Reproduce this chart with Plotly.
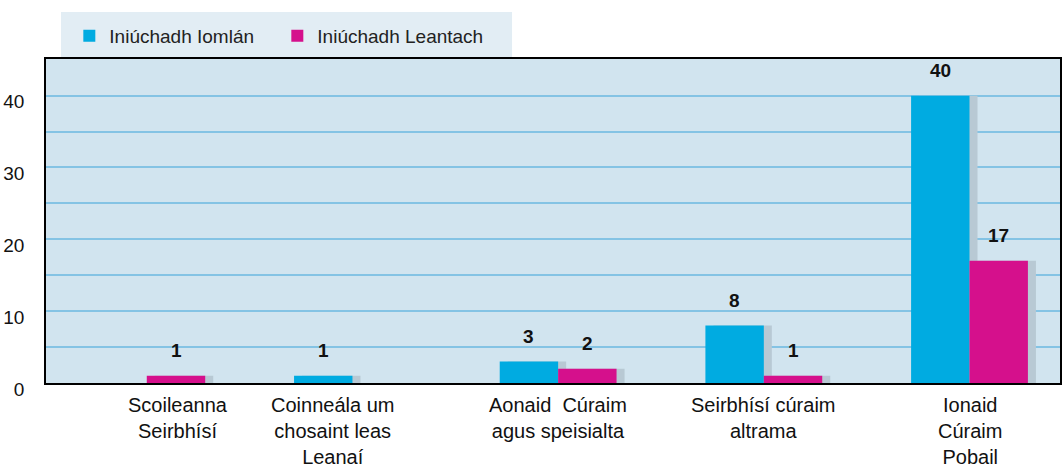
import plotly.graph_objects as go

categories = [
    "Scoileanna<br>Seirbhísí",
    "Coinneála um<br>chosaint leas<br>Leanaí",
    "Aonaid\u00a0 Cúraim<br>agus speisialta",
    "Seirbhísí cúraim<br>altrama",
    "Ionaid<br>Cúraim<br>Pobail",
]
series_names = ["Iniúchadh Iomlán", "Iniúchadh Leantach"]
full_audit = [0, 1, 3, 8, 40]
follow_up = [1, 0, 2, 1, 17]
y_ticks = [0, 10, 20, 30, 40]

BLUE = "#00abe1"
MAGENTA = "#d5108c"
SHADOW = "#b8c9d4"
GRID = "#84c3e4"
FONT = "Liberation Sans, Arial"

BW = 0.284        # bar width in category units
SH = 0.039        # shadow offset
SPACING_PX = 206  # approx pixels per category
LABEL_XSHIFT = [31, -20, 0, 0, 0]  # category label nudges (px)

fig = go.Figure()

# shadows
for vals, off in [(full_audit, -BW), (follow_up, 0.0)]:
    fig.add_trace(go.Bar(
        x=categories, y=vals, width=BW, offset=off + SH,
        marker=dict(color=SHADOW, line=dict(width=0)),
        showlegend=False, hoverinfo="skip"))

fig.add_trace(go.Bar(
    x=categories, y=full_audit, width=BW, offset=-BW, name=series_names[0],
    marker=dict(color=BLUE, line=dict(width=0))))
fig.add_trace(go.Bar(
    x=categories, y=follow_up, width=BW, offset=0.0, name=series_names[1],
    marker=dict(color=MAGENTA, line=dict(width=0))))

# value labels
for vals, xs in [(full_audit, -BW / 2), (follow_up, BW / 2)]:
    for c, v in zip(categories, vals):
        if v:
            fig.add_annotation(
                x=c, y=v, text=f"<b>{v}</b>", showarrow=False,
                xshift=xs * SPACING_PX, yshift=25, yanchor="middle",
                font=dict(family="Liberation Sans, Arial", size=19, color="#111111"))

# category labels
for c, dx in zip(categories, LABEL_XSHIFT):
    fig.add_annotation(
        x=c, xref="x", y=0, yref="paper", text=c, showarrow=False,
        xanchor="center", yanchor="top", align="center", xshift=dx, yshift=-9,
        font=dict(family=FONT, size=20, color="#111111"))

# legend background
fig.add_shape(type="rect", xref="paper", yref="paper",
              x0=0.0148, x1=0.4596, y0=1.003, y1=1.145,
              fillcolor="#e2edf4", line=dict(width=0), layer="below")

fig.update_layout(
    width=1062, height=470,
    margin=dict(l=46, r=0, t=59, b=87),
    paper_bgcolor="white",
    plot_bgcolor="#d1e4ef",
    barmode="overlay",
    showlegend=True,
    legend=dict(orientation="h", x=0.023, y=1.13, xanchor="left", yanchor="top",
                bgcolor="rgba(0,0,0,0)", font=dict(family=FONT, size=19, color="#222222"),
                entrywidth=163, entrywidthmode="pixels", traceorder="normal"),
    font=dict(family=FONT, color="#111111"),
    xaxis=dict(
        type="category", range=[-0.49, 4.44],
        showgrid=False, showline=True, linecolor="black", linewidth=1.5, mirror=True,
        ticks="", showticklabels=False,
        fixedrange=True),
    yaxis=dict(
        range=[0, 45.1], tickvals=y_ticks, ticktext=[str(t) for t in y_ticks],
        showgrid=True, gridcolor=GRID, gridwidth=1.5,
        minor=dict(dtick=5, showgrid=True, gridcolor=GRID, gridwidth=1.5),
        showline=True, linecolor="black", linewidth=1.5, mirror=True,
        zeroline=False, ticks="outside", ticklen=16, tickcolor="rgba(0,0,0,0)",
        ticklabelshift=6,
        tickfont=dict(family=FONT, size=19, color="#111111"),
        fixedrange=True),
)

fig.write_html("out.html",
               config={"displayModeBar": False},
               post_script="document.body.style.margin='0';document.body.style.padding='0';")
